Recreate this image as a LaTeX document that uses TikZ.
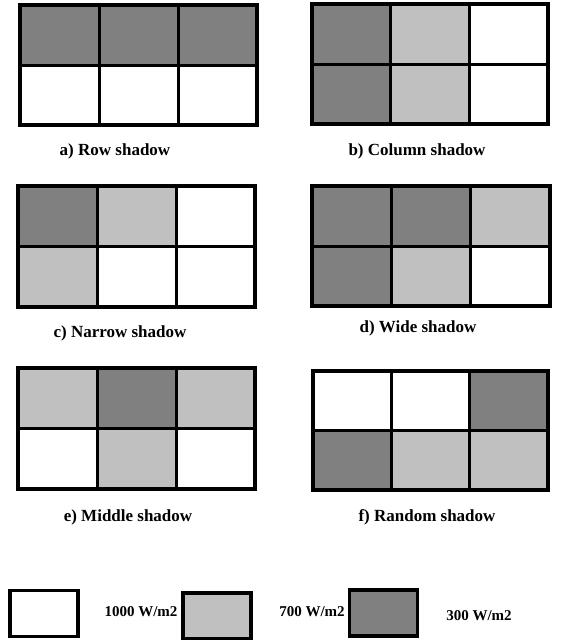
\documentclass[tikz,border=0pt]{standalone}
\usepackage{fontspec}
\setmainfont{Liberation Serif}
\definecolor{darksh}{RGB}{128,128,128}
\definecolor{lightsh}{RGB}{192,192,192}
\tikzset{
  innerline/.style={line width=3pt},
  outerline/.style={line width=4pt, line join=miter},
  caption/.style={font=\fontsize{17}{20}\selectfont\bfseries, inner sep=0pt},
  legtext/.style={font=\fontsize{15}{18}\selectfont\bfseries, inner sep=0pt},
  legbox/.style={draw, line width=3.5pt, minimum width=68pt, minimum height=46pt, inner sep=0pt, outer sep=0pt}
}
\newcommand\shadegrid[6]{%
  \fill[#1] (0,0) rectangle (1,1);
  \fill[#2] (1,0) rectangle (2,1);
  \fill[#3] (2,0) rectangle (3,1);
  \fill[#4] (0,1) rectangle (1,2);
  \fill[#5] (1,1) rectangle (2,2);
  \fill[#6] (2,1) rectangle (3,2);
  \draw[innerline] (1,0) -- (1,2) (2,0) -- (2,2) (0,1) -- (3,1);
  \draw[outerline] (0,0) rectangle (3,2);
}
\begin{document}
\begin{tikzpicture}[x=1pt,y=-1pt]
\useasboundingbox (0,0) rectangle (570,640);
\fill[white] (0,0) rectangle (570,640);
% a) Row shadow
\begin{scope}[shift={(20,5)}, xscale=79, yscale=60]
  \shadegrid{darksh}{darksh}{darksh}{white}{white}{white}
\end{scope}
\node[caption] (la) at (115,151) {a) Row shadow};
% b) Column shadow
\begin{scope}[shift={(312,4)}, xscale=78.67, yscale=60]
  \shadegrid{darksh}{lightsh}{white}{darksh}{lightsh}{white}
\end{scope}
\node[caption] (lb) at (417,151) {b) Column shadow};
% c) Narrow shadow
\begin{scope}[shift={(18,186)}, xscale=79, yscale=60.5]
  \shadegrid{darksh}{lightsh}{white}{lightsh}{white}{white}
\end{scope}
\node[caption] (lc) at (120,333) {c) Narrow shadow};
% d) Wide shadow
\begin{scope}[shift={(312,186)}, xscale=79.33, yscale=60]
  \shadegrid{darksh}{darksh}{lightsh}{darksh}{lightsh}{white}
\end{scope}
\node[caption] (ld) at (418,328) {d) Wide shadow};
% e) Middle shadow
\begin{scope}[shift={(18,368)}, xscale=79, yscale=60.5]
  \shadegrid{lightsh}{darksh}{lightsh}{white}{lightsh}{white}
\end{scope}
\node[caption] (le) at (128,517) {e) Middle shadow};
% f) Random shadow
\begin{scope}[shift={(313,371)}, xscale=78.33, yscale=59.5]
  \shadegrid{white}{white}{darksh}{darksh}{lightsh}{lightsh}
\end{scope}
\node[caption] (lf) at (427,517) {f) Random shadow};
% legend
\node[legbox, fill=white] (k1) at (44,613.5) {};
\node[legtext] (t1) at (141,612) {1000 W/m2};
\node[legbox, fill=lightsh] (k2) at (217,616) {};
\node[legtext] (t2) at (312,612) {700 W/m2};
\node[legbox, fill=darksh] (k3) at (383.5,613) {};
\node[legtext] (t3) at (479,616) {300 W/m2};
\end{tikzpicture}
\end{document}
